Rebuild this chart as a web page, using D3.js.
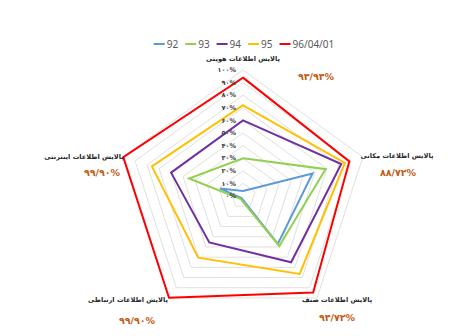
<!DOCTYPE html>
<html>
<head>
<meta charset="utf-8">
<script src="https://cdn.jsdelivr.net/npm/d3@7"></script>
<style>
  html, body { margin: 0; padding: 0; background: #fff; }
  svg { display: block; }
</style>
</head>
<body>
<svg id="chart" width="468" height="336"></svg>
<script>
// Radar axes, clockwise from the top
const axes = [
  "پالایش اطلاعات هویتی",
  "پالایش اطلاعات مکانی",
  "پالایش اطلاعات صنف",
  "پالایش اطلاعات ارتباطی",
  "پالایش اطلاعات اینترنتی"
];

// Series (percent)
const seriesNames = ["92", "93", "94", "95", "96/04/01"];
const s92 = [4, 58, 47, 2, 19];
const s93 = [30, 69, 49, 3, 45];
const s94 = [60, 82, 65, 45.5, 60];
const s95 = [72, 85, 76.5, 60.5, 76];
const s960401 = [93.94, 88.72, 94.72, 99.90, 99.90];
const seriesColors = ["#5B9BD5", "#92D050", "#7030A0", "#FFC000", "#FF0000"];

const tickValues = [0, 10, 20, 30, 40, 50, 60, 70, 80, 90, 100];

const allSeries = [s92, s93, s94, s95, s960401];

const svg = d3.select("#chart");
const cx = 243, cy = 196, R = 126;
const r = d3.scaleLinear().domain([0, 100]).range([0, R]);
const angle = d3.scaleLinear().domain([0, axes.length]).range([0, 2 * Math.PI]);

const pt = (i, v) => [cx + r(v) * Math.sin(angle(i)), cy - r(v) * Math.cos(angle(i))];

const faDigits = "۰۱۲۳۴۵۶۷۸۹";
const toFa = s => String(s).replace(/[0-9]/g, d => faDigits[+d]);
const faFont = "'DejaVu Sans', sans-serif";

// Grid rings
const ring = d3.line();
svg.append("g").selectAll("path").data(tickValues.filter(t => t > 0)).join("path")
  .attr("d", t => ring(axes.map((_, i) => pt(i, t))) + "Z")
  .attr("fill", "none")
  .attr("stroke", "#e0e0e0")
  .attr("stroke-width", 1);

// Series polygons
svg.append("g").selectAll("path").data(allSeries).join("path")
  .attr("d", vals => ring(vals.map((v, i) => pt(i, v))) + "Z")
  .attr("fill", "none")
  .attr("stroke", (_, k) => seriesColors[k])
  .attr("stroke-width", 2)
  .attr("stroke-linejoin", "miter");

// Radial tick labels
svg.append("g").selectAll("text").data(tickValues).join("text")
  .attr("x", cx - 7)
  .attr("y", t => cy - r(t))
  .attr("dy", "0.35em")
  .attr("text-anchor", "end")
  .attr("font-family", faFont)
  .attr("font-size", 6.5)
  .attr("font-weight", "bold")
  .attr("fill", "#404040")
  .text(t => toFa(t) + "%");

// Axis labels and value labels for the latest series
const labelPos = [
  { x: 243, y: 59, vx: 316, vy: 77 },
  { x: 397, y: 156, vx: 398, vy: 173 },
  { x: 337, y: 300, vx: 337, vy: 318 },
  { x: 128, y: 300, vx: 137, vy: 321 },
  { x: 84, y: 157, vx: 102, vy: 173 }
];
const g = svg.append("g");
axes.forEach((a, i) => {
  g.append("text")
    .attr("x", labelPos[i].x).attr("y", labelPos[i].y)
    .attr("dy", "0.35em")
    .attr("text-anchor", "middle")
    .attr("font-family", faFont)
    .attr("font-size", 6.6)
    .attr("font-weight", "bold")
    .attr("fill", "#262626")
    .text(a);
  g.append("text")
    .attr("x", labelPos[i].vx).attr("y", labelPos[i].vy)
    .attr("dy", "0.35em")
    .attr("text-anchor", "middle")
    .attr("font-family", faFont)
    .attr("font-size", 9.5)
    .attr("font-weight", "bold")
    .attr("fill", "#C55A11")
    .text(toFa(s960401[i].toFixed(2)).replace(".", "/") + "%");
});

// Legend
const legend = svg.append("g").attr("font-family", "'Noto Sans', sans-serif").attr("font-size", 10).attr("fill", "#595959");
let lx = 0;
seriesNames.forEach((n, k) => {
  const it = legend.append("g").attr("transform", `translate(${lx},0)`);
  it.append("line").attr("x1", 0).attr("x2", 11).attr("y1", 0).attr("y2", 0)
    .attr("stroke", seriesColors[k]).attr("stroke-width", 2);
  const t = it.append("text").attr("x", 13).attr("y", 0).attr("dy", "0.35em").text(n);
  lx += 13 + t.node().getComputedTextLength() + 7;
});
const legendW = lx - 7;
legend.attr("transform", `translate(${244 - legendW / 2},44)`);
</script>
</body>
</html>
